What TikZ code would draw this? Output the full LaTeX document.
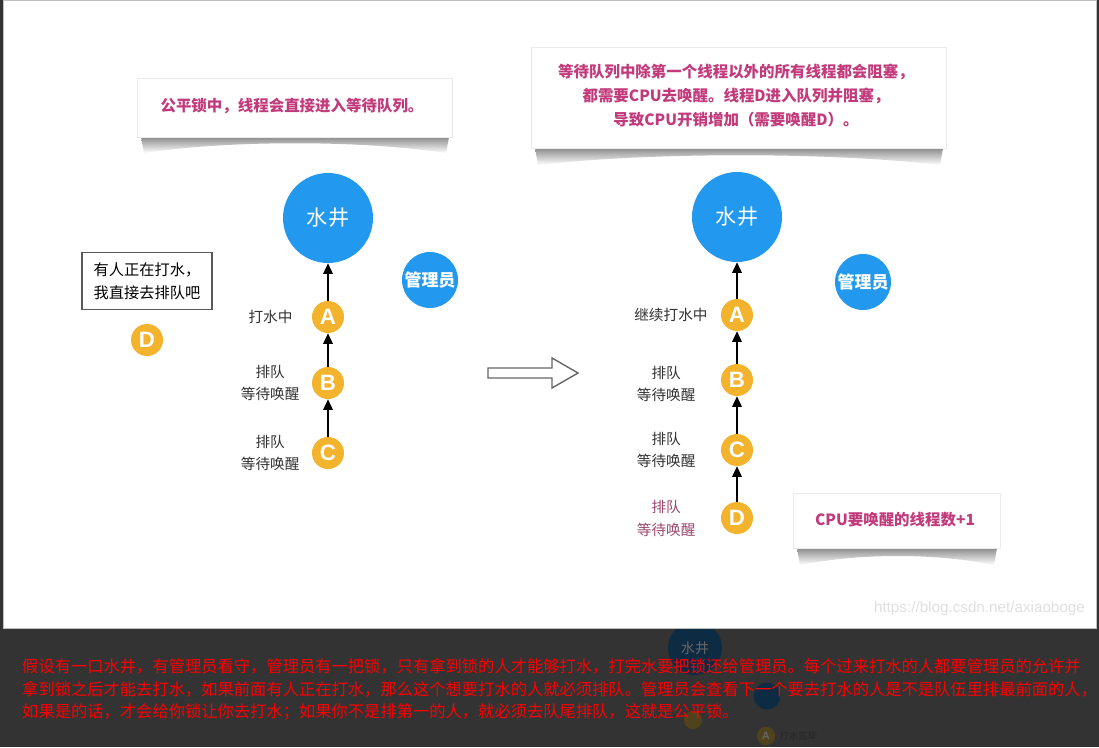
\documentclass[tikz,border=0pt]{standalone}
\usepackage{fontspec}
\setmainfont{Noto Sans CJK SC}
\newfontfamily\letterfont{Liberation Sans}
\usetikzlibrary{arrows.meta,positioning}
\definecolor{wellblue}{HTML}{2299EE}
\definecolor{threadorange}{HTML}{F4B32C}
\definecolor{notepink}{HTML}{C23A7B}
\definecolor{queuepink}{HTML}{9C4870}
\definecolor{framegray}{HTML}{333333}
\definecolor{fadeblue}{HTML}{0E2B44}
\definecolor{fadeorange}{HTML}{4F421C}

\begin{document}
\begin{tikzpicture}[x=0.03cm, y=-0.03cm,
  well/.style={circle, fill=wellblue, text=white, minimum size=2.7cm, inner sep=0pt,
               font=\fontsize{18}{18}\selectfont},
  mgr/.style={circle, fill=wellblue, text=white, minimum size=1.68cm, inner sep=0pt,
              font=\bfseries\fontsize{14.5}{14.5}\selectfont},
  thread/.style={circle, fill=threadorange, text=white, minimum size=0.96cm, inner sep=0pt,
                 font=\letterfont\bfseries\fontsize{19}{19}\selectfont},
  lbl/.style={align=center, text=black!80, inner sep=0pt, font=\fontsize{12.5}{19.5}\selectfont},
  note/.style={align=center, text=notepink, font=\bfseries\fontsize{13.2}{20.5}\selectfont},
  paper/.style={fill=white, draw=black!8},
  curl/.style={top color=black!45, bottom color=white},
  flow/.style={line width=1.6pt, -{Triangle[length=9pt,width=8pt]}},
  hollow/.style={draw=black!60, line width=1.2pt, fill=white, line join=miter},
  story/.style={anchor=west, text=red, inner sep=0pt, font=\fontsize{13.9}{13.9}\selectfont},
  faded/.style={circle, inner sep=0pt, text=black!60},
]

% --- frame and page ---
\fill[framegray] (0,0) rectangle (1099,747);
\useasboundingbox (0,0) rectangle (1099,747);

% --- next slide showing through ---
\node[faded, fill=fadeblue, minimum size=1.62cm, font=\fontsize{12}{12}\selectfont] (oldwell) at (695,648) {水井};
\node[faded, fill=fadeblue, minimum size=0.8cm] (oldmgr) at (767,696) {};
\node[faded, fill=fadeorange, minimum size=0.55cm] (oldd) at (693,720) {};
\node[faded, fill=fadeorange, minimum size=0.55cm, font=\letterfont\bfseries\fontsize{9}{9}\selectfont] (olda) at (766,736) {A};
\node[right=0.12cm of olda, inner sep=0pt, text=black!85, font=\fontsize{8}{8}\selectfont] (olddone) {打水完毕};

\fill[white, draw=black!25] (3,0) rectangle (1096,628);

% --- callouts ---
\shade[curl] (141,137) -- (144,153) .. controls (230,140) and (360,140) .. (446,153) -- (449,137) -- cycle;
\fill[paper] (137,78) rectangle (452,137);
\node[note] (fairnote) at (292,106) {公平锁中，线程会直接进入等待队列。};

\shade[curl] (535,148) -- (538,165) .. controls (650,152) and (830,152) .. (940,165) -- (943,148) -- cycle;
\fill[paper] (531,47) rectangle (946,148);
\node[note] (blocknote) at (736,96) {等待队列中除第一个线程以外的所有线程都会阻塞，\\都需要CPU去唤醒。线程D进入队列并阻塞，\\导致CPU开销增加（需要唤醒D）。};

\shade[curl] (797,548) -- (800,565) .. controls (860,553) and (935,553) .. (994,565) -- (997,548) -- cycle;
\fill[paper] (793,493) rectangle (1000,548);
\node[note] (cpunote) at (895,520) {CPU要唤醒的线程数+1};

% --- left queue ---
\node[well] (well) at (328,218) {水井};
\node[mgr] (mgr) at (430,280) {管理员};
\node[thread] (a) at (328,317) {A};
\node[thread] (b) at (328,383) {B};
\node[thread] (c) at (328,453) {C};
\node[thread] (d) at (147,340) {D};
\node[draw=black!65, line width=0.9pt, minimum width=3.9cm, minimum height=1.71cm, align=center,
      font=\fontsize{13}{19.5}\selectfont] (thought) at (147,281) {有人正在打水，\\我直接去排队吧};

\node[lbl, left=0.57cm of a] (la) {打水中};
\node[lbl, left=0.36cm of b] (lb) {排队\\等待唤醒};
\node[lbl, left=0.36cm of c] (lc) {排队\\等待唤醒};

\draw[flow] (a) -- (well);
\draw[flow] (b) -- (a);
\draw[flow] (c) -- (b);

% --- transition ---
\draw[hollow] (488,368) -- (552,368) -- (552,358) -- (578,373) -- (552,388) -- (552,378) -- (488,378) -- cycle;

% --- right queue ---
\node[well] (well2) at (737,217) {水井};
\node[mgr] (mgr2) at (863,282) {管理员};
\node[thread] (a2) at (737,315) {A};
\node[thread] (b2) at (737,380) {B};
\node[thread] (c2) at (737,450) {C};
\node[thread] (d2) at (737,518) {D};

\node[lbl, left=0.39cm of a2] (la2) {继续打水中};
\node[lbl, left=0.75cm of b2, yshift=-0.12cm] (lb2) {排队\\等待唤醒};
\node[lbl, left=0.75cm of c2] (lc2) {排队\\等待唤醒};
\node[lbl, left=0.75cm of d2, text=queuepink] (ld2) {排队\\等待唤醒};

\foreach \from/\to in {a2/well2, b2/a2, c2/b2, d2/c2}
  \draw[flow] (\from) -- (\to);

\node[anchor=east, text=black!12, font=\letterfont\fontsize{13}{13}\selectfont] (mark) at (1089,609) {https://blog.csdn.net/axiaoboge};

% --- story ---
\node[story] (s1) at (22,666) {假设有一口水井，有管理员看守，管理员有一把锁，只有拿到锁的人才能够打水，打完水要把锁还给管理员。每个过来打水的人都要管理员的允许并};
\node[story] (s2) at (22,689) {拿到锁之后才能去打水，如果前面有人正在打水，那么这个想要打水的人就必须排队。管理员会查看下一个要去打水的人是不是队伍里排最前面的人，};
\node[story] (s3) at (22,712) {如果是的话，才会给你锁让你去打水；如果你不是排第一的人，就必须去队尾排队，这就是公平锁。};

\end{tikzpicture}
\end{document}
